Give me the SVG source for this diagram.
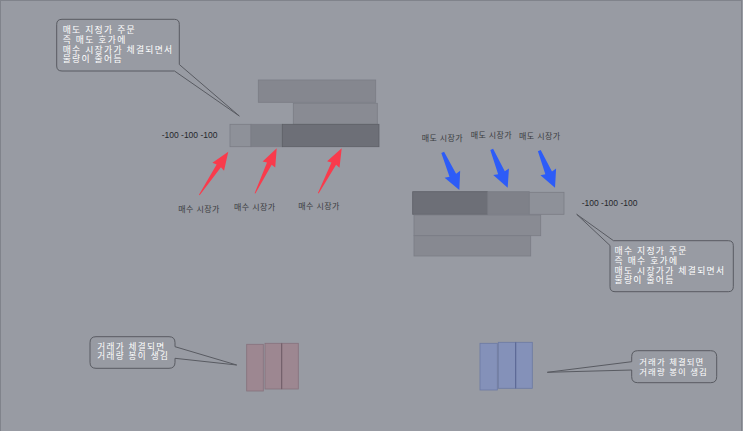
<svg xmlns="http://www.w3.org/2000/svg" width="743" height="431" viewBox="0 0 743 431">
<style>
.bg{fill:#989ba3}
.call{fill:#989ba3;stroke:#595b62;stroke-width:1}
.ct{font-family:"Liberation Sans","Noto Sans CJK KR",sans-serif;font-size:8.8px;letter-spacing:1.3px;fill:#ffffff}
.cs{font-family:"Liberation Sans","Noto Sans CJK KR",sans-serif;font-size:8.6px;letter-spacing:1.3px;fill:#ffffff}
.lb{font-family:"Liberation Sans","Noto Sans CJK KR",sans-serif;font-size:8px;letter-spacing:0.4px;fill:#3a3b40}
.num{font-family:"Liberation Sans",Arial,sans-serif;font-size:8.5px;fill:#26272b}
.bar{stroke:#7b7d85;stroke-width:0.8}
.red{fill:#f93b4c}
.blue{fill:#2d5cf7}
.pink{fill:#9d8791;stroke:#86717c;stroke-width:0.8}
.bl{fill:#8491b9;stroke:#6c79a3;stroke-width:0.8}
</style>
<rect class="bg" x="0" y="0" width="743" height="431"/>
<rect x="0.5" y="0.5" width="741" height="431" fill="none" stroke="#80838b" stroke-width="1"/>

<g id="sell-book">
<rect class="bar" x="258.3" y="80" width="117.4" height="22.3" fill="#85878f"/>
<rect class="bar" x="293.3" y="103.3" width="84" height="21" fill="#898b93"/>
<rect class="bar" x="230" y="124.3" width="21" height="22.4" fill="#8e9199"/>
<rect class="bar" x="251" y="124.3" width="31.3" height="22.4" fill="#7e8189"/>
<rect x="282.3" y="124.3" width="96.7" height="22.4" fill="#6d6f77" stroke="#5d5f66" stroke-width="0.8"/>
<text class="num" x="161.7" y="137.7">-100 -100 -100</text>
</g>

<g id="buy-book">
<rect x="412.7" y="191.7" width="75" height="22.6" fill="#6d6f77" stroke="#5d5f66" stroke-width="0.8"/>
<rect class="bar" x="487.7" y="191.7" width="41.6" height="22.6" fill="#7f8189"/>
<rect class="bar" x="529.3" y="192.3" width="34.7" height="22" fill="#8e9199"/>
<rect class="bar" x="414" y="215" width="126.7" height="20.7" fill="#898b93"/>
<rect class="bar" x="414" y="235.7" width="116.7" height="20.3" fill="#878991"/>
<text class="num" x="581.7" y="206">-100 -100 -100</text>
</g>

<g id="callout-sell">
<path class="call" d="M62,19.3 H174.3 Q179.3,19.3 179.3,24.3 V64.5 L239.3,116 L174.5,71 H62 Q56.7,71 56.7,66 V24.3 Q56.7,19.3 62,19.3 Z"/>
<text class="ct" x="62.7" y="33">매도 지정가 주문</text>
<text class="ct" x="62.7" y="42.8">즉 매도 호가에</text>
<text class="ct" x="62.7" y="52.6">매수 시장가가 체결되면서</text>
<text class="ct" x="62.7" y="62.4">물량이 줄어듬</text>
</g>

<g id="callout-buy">
<path class="call" d="M613.5,240.7 H728.3 Q733.3,240.7 733.3,245.7 V286.7 Q733.3,291.7 728.3,291.7 H615 Q610,291.7 610,286.7 V245.5 L576.7,214.3 Z"/>
<text class="ct" x="614.5" y="254">매수 지정가 주문</text>
<text class="ct" x="614.5" y="263.8">즉 매수 호가에</text>
<text class="ct" x="614.5" y="273.6">매도 시장가가 체결되면서</text>
<text class="ct" x="614.5" y="283.4">물량이 줄어듬</text>
</g>

<g id="buy-market-labels">
<text class="lb" x="178.3" y="211.7">매수 시장가</text>
<text class="lb" x="234" y="210">매수 시장가</text>
<text class="lb" x="298.3" y="208.7">매수 시장가</text>
</g>

<g id="sell-market-labels">
<text class="lb" x="421.7" y="140.7">매도 시장가</text>
<text class="lb" x="470.7" y="138.3">매도 시장가</text>
<text class="lb" x="519" y="139">매도 시장가</text>
</g>

<g id="candle-red">
<rect class="pink" x="246.7" y="344.3" width="16.6" height="46.7"/>
<rect class="pink" x="265" y="343.3" width="16.7" height="45.7"/>
<rect class="pink" x="281.7" y="343.3" width="16.6" height="45.7"/>
<line x1="281.7" y1="343.3" x2="281.7" y2="389" stroke="#6f5d68" stroke-width="1"/>
</g>

<g id="candle-blue">
<rect class="bl" x="480" y="343.3" width="17.3" height="46.7"/>
<rect class="bl" x="498.3" y="342.3" width="17.4" height="46"/>
<rect class="bl" x="515.7" y="342.3" width="16.6" height="46"/>
<line x1="515.7" y1="342.3" x2="515.7" y2="388.3" stroke="#5a6794" stroke-width="1"/>
</g>

<g id="callout-candle-left">
<path class="call" d="M96,336.7 H169 Q175,336.7 175,342.7 V346.7 L236.7,365 L175,358.3 V362.3 Q175,368.3 169,368.3 H96 Q90,368.3 90,362.3 V342.7 Q90,336.7 96,336.7 Z"/>
<text class="cs" x="97.3" y="349.6">거래가 체결되면</text>
<text class="cs" x="97.3" y="359.3">거래량 봉이 생김</text>
</g>

<g id="callout-candle-right">
<path class="call" d="M637.7,350.7 H710.7 Q716.7,350.7 716.7,356.7 V376.7 Q716.7,382.7 710.7,382.7 H637.7 Q631.7,382.7 631.7,376.7 V370 L547.3,372.3 L631.7,361.7 V356.7 Q631.7,350.7 637.7,350.7 Z"/>
<text class="cs" x="639.3" y="365.2" style="font-size:8.4px;letter-spacing:1.1px">거래가 체결되면</text>
<text class="cs" x="639.3" y="374.7" style="font-size:8.4px;letter-spacing:1.1px">거래량 봉이 생김</text>
</g>

<g id="connectors">
<path class="red" transform="translate(199.3,195) rotate(-56.2)" d="M0,-0.4 L35,-2.6 L34,-7 L52.1,0 L34,7 L35,2.6 L0,0.4 Z"/>
<path class="red" transform="translate(255,193.3) rotate(-64.25)" d="M0,-0.4 L33,-2.6 L32,-7 L50,0 L32,7 L33,2.6 L0,0.4 Z"/>
<path class="red" transform="translate(318.3,193.3) rotate(-62.5)" d="M0,-0.4 L33.5,-2.6 L32.5,-7 L50.7,0 L32.5,7 L33.5,2.6 L0,0.4 Z"/>
<path class="blue" transform="translate(442.7,152.3) rotate(66.2)" d="M0,-1.5 L25,-3.6 L24,-8.5 L41.2,0 L24,8.5 L25,3.6 L0,1.5 Z"/>
<path class="blue" transform="translate(491.7,149.3) rotate(67.4)" d="M0,-1.5 L25.4,-3.6 L24.4,-8.5 L41.6,0 L24.4,8.5 L25.4,3.6 L0,1.5 Z"/>
<path class="blue" transform="translate(539.3,150.7) rotate(67)" d="M0,-1.5 L24,-3.6 L23,-8.5 L40.2,0 L23,8.5 L24,3.6 L0,1.5 Z"/>
</g>
</svg>
